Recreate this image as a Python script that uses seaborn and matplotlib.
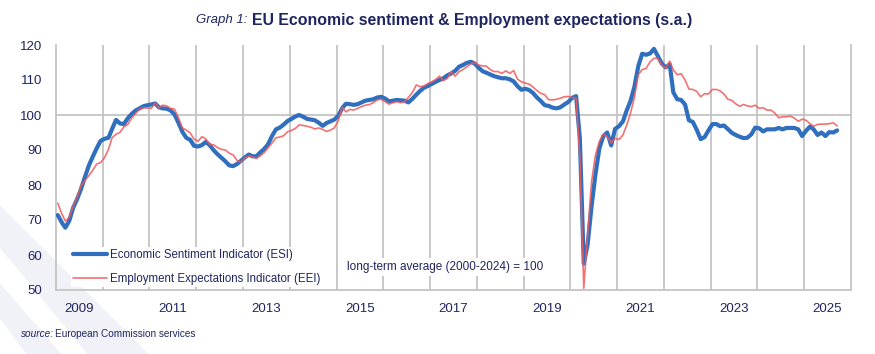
import matplotlib
matplotlib.use('Agg')
import matplotlib.pyplot as plt
from matplotlib.patches import Polygon
import seaborn as sns
import pandas as pd

sns.set_style('white')
plt.rcParams['font.family'] = ['Liberation Sans', 'DejaVu Sans']

# monthly values, Jan 2009 - Sep 2025
esi = [71.4, 69.3, 67.8, 69.8, 73.5, 76.0, 78.8, 82.3, 85.6, 88.1,
       90.5, 92.6, 93.2, 93.5, 96.0, 98.6, 97.6, 97.4, 99.0, 100.3,
       101.3, 101.9, 102.5, 102.8, 103.0, 103.3, 102.2, 101.9, 101.8, 101.3,
       100.2, 97.8, 95.2, 93.5, 92.9, 91.2, 91.0, 91.4, 92.3, 91.4,
       90.0, 88.8, 87.8, 86.8, 85.6, 85.4, 86.0, 86.9, 87.9, 88.7,
       88.2, 88.2, 89.3, 90.3, 91.6, 94.0, 95.9, 96.4, 97.3, 98.3,
       98.9, 99.6, 100.0, 99.5, 98.9, 98.7, 98.5, 97.8, 96.9, 97.7,
       98.2, 98.7, 99.8, 102.0, 103.2, 103.1, 102.9, 103.1, 103.6, 104.1,
       104.3, 104.5, 105.0, 105.2, 104.7, 103.9, 104.1, 104.3, 104.2, 104.1,
       103.6, 104.6, 105.8, 106.9, 107.8, 108.3, 108.9, 109.5, 110.0, 110.5,
       111.3, 111.9, 112.6, 113.8, 114.3, 114.9, 115.2, 114.7, 113.5, 112.5,
       112.1, 111.6, 111.1, 110.8, 110.5, 110.5, 110.2, 109.6, 108.2, 107.2,
       107.5, 107.1, 106.3, 105.0, 104.0, 102.8, 102.6, 102.1, 101.9, 102.2,
       103.0, 103.7, 104.9, 105.4, 93.5, 57.5, 63.0, 74.0, 83.0, 90.5,
       94.0, 95.0, 91.3, 96.0, 96.8, 98.2, 101.2, 104.0, 108.0, 114.0,
       117.5, 117.2, 117.6, 118.9, 116.8, 114.7, 113.6, 114.5, 106.5, 104.5,
       104.3, 103.0, 98.5, 98.0, 95.7, 93.1, 93.7, 95.6, 97.4, 97.4,
       96.8, 97.0, 96.0, 94.9, 94.3, 93.8, 93.4, 93.5, 94.5, 96.4,
       96.2, 95.3, 95.9, 95.9, 95.9, 96.3, 95.9, 96.3, 96.3, 96.3,
       95.9, 94.0, 95.5, 96.7, 95.9, 94.3, 95.0, 94.0, 95.1, 95.0,
       95.6]

eei = [74.8, 71.8, 69.7, 70.8, 74.0, 76.5, 79.8, 81.3, 82.7, 84.2,
       86.0, 86.4, 87.8, 90.2, 93.5, 94.5, 95.0, 96.6, 97.3, 99.1,
       100.4, 101.7, 102.1, 102.0, 101.9, 103.5, 102.0, 102.8, 102.6, 101.9,
       101.7, 99.2, 96.3, 95.7, 94.9, 93.1, 92.5, 93.8, 93.2, 91.6,
       91.5, 90.7, 90.2, 90.0, 89.1, 88.6, 87.0, 86.5, 87.8, 88.3,
       88.0, 87.6, 88.3, 89.3, 90.6, 92.0, 93.5, 93.7, 94.1, 95.2,
       95.6, 96.2, 97.2, 97.0, 96.8, 96.5, 96.0, 96.3, 95.9, 95.3,
       95.7, 96.3, 98.4, 102.2, 100.9, 101.6, 101.4, 101.9, 102.4, 102.8,
       103.0, 103.5, 104.3, 104.5, 103.8, 103.1, 103.5, 103.8, 103.5, 103.8,
       105.0, 106.4, 108.6, 108.1, 108.3, 109.0, 109.5, 110.2, 111.1, 109.8,
       110.5, 112.4, 111.1, 112.4, 113.0, 113.8, 114.6, 115.0, 114.3, 114.0,
       114.0, 113.0, 112.4, 112.4, 111.9, 112.6, 111.9, 112.7, 110.2, 109.5,
       109.1, 108.8, 108.0, 107.0, 106.2, 105.8, 104.4, 104.3, 104.5, 104.8,
       105.2, 105.3, 105.0, 104.8, 88.0, 50.5, 66.0, 81.0, 88.5, 92.5,
       94.6, 93.8, 92.0, 93.3, 93.0, 94.3, 97.0, 100.5, 105.0, 111.5,
       113.0, 113.3, 115.2, 116.2, 116.2, 114.3, 113.3, 115.4, 112.9, 111.5,
       111.8, 110.0, 107.4, 107.3, 106.7, 105.2, 106.1, 106.0, 107.3, 107.3,
       106.9, 106.0, 104.5, 104.2, 103.2, 102.5, 103.0, 102.6, 102.4, 102.8,
       101.9, 102.1, 101.4, 101.4, 100.6, 99.2, 99.5, 99.5, 99.7, 99.1,
       98.2, 98.8, 98.5, 97.5, 96.8, 97.3, 97.4, 97.4, 97.5, 97.8,
       96.9]

label_years = [2009, 2011, 2013, 2015, 2017, 2019, 2021, 2023, 2025]
y_ticks = [50, 60, 70, 80, 90, 100, 110, 120]

navy = '#1f2560'
grid_c = '#c4c4c4'
blue = '#2f6fbd'
red = '#f0595b'

dates = pd.date_range('2009-01-01', periods=len(esi), freq='MS') + pd.Timedelta(days=14)
df = pd.DataFrame({'date': dates, 'esi': esi, 'eei': eei})

fig = plt.figure(figsize=(8.75, 3.54), dpi=100)

# faint decorative bands bottom-left, behind everything
for pts in [[(0, 0.42), (0, 0.30), (0.10, 0.0), (0.17, 0.0)],
            [(0, 0.20), (0, 0.10), (0.03, 0.0), (0.07, 0.0)]]:
    fig.patches.append(Polygon(pts, closed=True, transform=fig.transFigure,
                               facecolor='#f1f2f8', edgecolor='none', zorder=-1))

ax = fig.add_axes([56 / 875, 1 - 290 / 354, 795 / 875, 245 / 354])
ax.patch.set_alpha(0)

sns.lineplot(data=df, x='date', y='esi', ax=ax, color=blue, linewidth=3.0,
             label='Economic Sentiment Indicator (ESI)', zorder=3)
sns.lineplot(data=df, x='date', y='eei', ax=ax, color=red, linewidth=1.2, alpha=0.85,
             label='Employment Expectations Indicator (EEI)', zorder=4)

ax.set_xlim(pd.Timestamp('2009-01-01'), pd.Timestamp('2026-01-01'))
ax.set_ylim(50, 120)

ax.set_xticks([pd.Timestamp(f'{y}-01-01') for y in range(2010, 2026)])
ax.set_xticklabels([])
ax.set_xticks([pd.Timestamp(f'{y}-07-01') for y in label_years], minor=True)
ax.set_xticklabels([str(y) for y in label_years], minor=True)
ax.tick_params(axis='x', which='both', length=0, pad=9, labelsize=9.5, labelcolor=navy)
ax.grid(axis='x', which='major', color=grid_c, linewidth=1.3)
ax.grid(axis='x', which='minor', visible=False)

ax.set_yticks(y_ticks)
ax.tick_params(axis='y', length=0, pad=10, labelsize=9.5, labelcolor=navy)
ax.axhline(100, color=grid_c, linewidth=1.3, zorder=1)

for side in ['left', 'bottom', 'right']:
    ax.spines[side].set_color(grid_c)
    ax.spines[side].set_linewidth(1.3)
ax.spines['top'].set_visible(False)
ax.set_xlabel('')
ax.set_ylabel('')

# legend sits under the spines so its white box does not hide the bottom axis
leg = ax.legend(loc='lower left', bbox_to_anchor=(0.011, -0.012), fontsize=8.3,
                frameon=True, facecolor='white', edgecolor='none', framealpha=1,
                handlelength=3.0, labelspacing=1.0, borderpad=0.2, handletextpad=0.25)
for t in leg.get_texts():
    t.set_color(navy)
leg.set_zorder(2.2)

ax.text(0.366, 0.095, 'long-term average (2000-2024) = 100', transform=ax.transAxes,
        fontsize=8.5, color=navy, va='center', ha='left', zorder=2.2,
        bbox=dict(facecolor='white', edgecolor='none', pad=2))

fig.text(0.283, 0.943, 'Graph 1:', fontsize=9.5, style='italic', color=navy,
         ha='right', va='center')
fig.text(0.288, 0.943, 'EU Economic sentiment & Employment expectations (s.a.)',
         fontsize=11.4, fontweight='bold', color=navy, ha='left', va='center')
fig.text(0.024, 0.056, 'source:', fontsize=7.2, style='italic', color=navy,
         ha='left', va='center')
fig.text(0.063, 0.056, 'European Commission services', fontsize=7.2, color=navy,
         ha='left', va='center')

fig.savefig('out.png', dpi=100)
